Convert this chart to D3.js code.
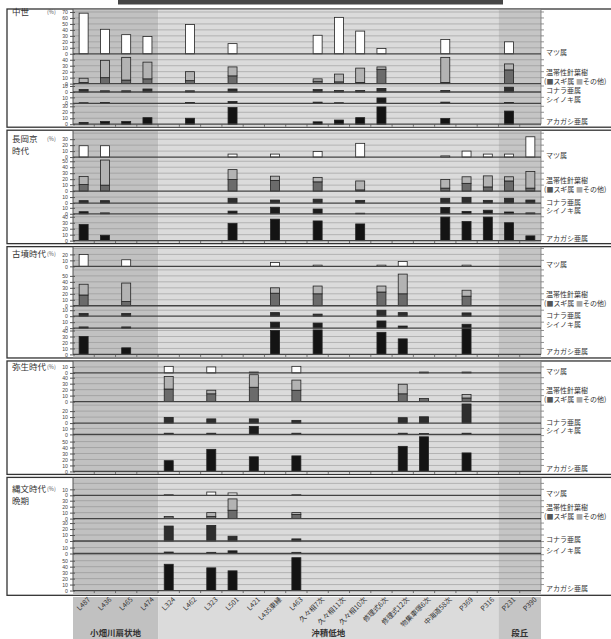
<!DOCTYPE html>
<html>
<head>
<meta charset="utf-8">
<script src="https://cdn.jsdelivr.net/npm/d3@7"></script>
<style>
  body { margin: 0; background: #fff; }
  svg { display: block; font-family: "Noto Sans CJK JP", "Noto Sans", sans-serif; }
  .tick text { font-family: "Liberation Sans", sans-serif; }
</style>
</head>
<body>
<div id="chart"></div>
<script>
// sites along the x axis
const sites = ["L487", "L436", "L465", "L474", "L324", "L462", "L323", "L501", "L421", "L435東縁", "L463",
  "久々相7次", "久々相11次", "久々相10次", "修理式6次", "修理式12次", "物集車塚6次", "中海道58次",
  "P369", "P316", "P231", "P390"];
const regions = ["小畑川扇状地", "沖積低地", "段丘"];
const regionCount = [4, 16, 2];

const periods = [["中世"], ["長岡京", "時代"], ["古墳時代"], ["弥生時代"], ["縄文時代", "晩期"]];
const taxa = ["マツ属", "温帯性針葉樹", "コナラ亜属", "シイノキ属", "アカガシ亜属"];

// highest labelled tick (%) and the extent of each row (%) for each period
const tickMax = [[70, 40, 10, 10, 30], [30, 50, 10, 10, 40], [20, 50, 10, 10, 40], [10, 40, 20, 10, 50], [10, 30, 30, 10, 50]];
const rowSpan = [[75, 50, 14, 19, 35], [45, 57, 20, 18, 45], [33, 66, 17.5, 20, 44], [20, 48, 36, 19, 62], [30, 39, 37.5, 21, 62]];
const bottomPad = [5, 5, 6, 5, 8];

const _ = null;
// pollen percentages, one list per period
const matsu = [
  [68, 41, 32, 29, _, 49, _, 17, _, _, _, 31, 61, 38, 9, _, _, 24, _, _, 20, _],
  [19, 19, _, _, _, _, _, 5, _, 5, _, 9.5, _, 23, _, _, _, 2, 10, 5, 5, 34],
  [20, _, 11, _, _, _, _, _, _, 6.5, _, 2, _, _, 2, 8, _, _, 2, _, _, _],
  [_, _, _, _, 11, _, 10, _, 1.5, _, 11, _, _, _, _, _, 1.5, _, 1.5, _, _, _],
  [_, _, _, _, 1, _, 5.5, 4, _, _, 1, _, _, _, _, _, _, _, _, _, _, _]
];
const sugi = [
  [2, 10, 6, 8, _, 5, _, 13, _, _, _, 4, 3, 2, 24, _, _, 2, _, _, 23, _],
  [11, 10, _, _, _, _, _, 19.5, _, 18, _, 15.5, _, 2, _, _, _, 5, 13, 7, 17, 5],
  [18, _, 7, _, _, _, _, _, _, 21, _, 20, _, _, 23, 20, _, _, 16, _, _, _],
  [_, _, _, _, 21, _, 13, _, 24, _, 19, _, _, _, _, 13, 5, _, 6, _, _, _],
  [_, _, _, _, 3.5, _, 3.5, 14, _, _, 7, _, _, _, _, _, _, _, _, _, _, _]
];
const sonota = [
  [7, 29, 38, 28, _, 15, _, 15, _, _, _, 4, 13, 24, 4, _, _, 42, _, _, 10, _],
  [13.5, 42, _, _, _, _, _, 16.5, _, 7, _, 7.5, _, 15, _, _, _, 14.5, 11, 18.5, 7, 28],
  [18, _, 31, _, _, _, _, _, _, 9, _, 13, _, _, 10, 33, _, _, 10, _, _, _],
  [_, _, _, _, 21, _, 6, _, 21, _, 17, _, _, _, _, 16, _, _, 6, _, _, _],
  [_, _, _, _, _, _, 6.5, 19, _, _, 3, _, _, _, _, _, _, _, _, _, _, _]
];
const konara = [
  [4, 2, 2, 5, _, 2, _, 5, _, _, _, 4, 2.5, 2.5, 6, _, _, 2.5, _, _, 8, _],
  [4, 4, _, _, _, _, _, 8, _, 5, _, 6.5, _, 4.5, _, _, _, 8, 9.5, 4.5, 8, 5],
  [4.5, _, 4.5, _, _, _, _, _, _, 6, _, 3.5, _, _, 10, 6, _, _, 5.5, _, _, _],
  [_, _, _, _, 9.5, _, 7, _, 7, _, 4.5, _, _, _, _, 9, 10.5, _, 32, _, _, _],
  [_, _, _, _, 25, _, 26, 8, _, _, 3.5, _, _, _, _, _, _, _, _, _, _, _]
];
const shii = [
  [1, 1.5, _, _, _, 1.5, _, 3, _, _, _, 2, 1, _, 9, _, _, 2, _, _, 1.5, _],
  [3.5, 1.5, _, _, _, _, _, 4.5, _, 11, _, 8, _, 1, _, _, _, 10.5, 4, 6, 3, 1.5],
  [2, _, 2, _, _, _, _, _, _, 10, _, 8.5, _, _, 12, 3.5, _, _, 6.5, _, _, _],
  [_, _, _, _, 2, _, 2, _, 13.5, _, 2, _, _, _, _, 2, 1.5, _, 2, _, _, _],
  [_, _, _, _, 2.5, _, 2, 4.5, _, _, 2, _, _, _, _, _, _, _, _, _, _, _]
];
const akagashi = [
  [3, 4.5, 4.5, 11, _, 10, _, 28, _, _, _, 4, 7, 11, 29, _, _, 9.5, _, _, 22, _],
  [27, 9, _, _, _, _, _, 29, _, 36, _, 33, _, 28, _, _, _, 39.5, 32, 39.5, 30, 8],
  [30, _, 11, _, _, _, _, _, _, 40, _, 41, _, _, 37, 26, _, _, 43, _, _, _],
  [_, _, _, _, 18, _, 37, _, 24.5, _, 26, _, _, _, _, 42, 58, _, 31, _, _, _],
  [_, _, _, _, 44, _, 38, 33, _, _, 55, _, _, _, _, _, _, _, _, _, _, _]
];

const width = 611, height = 639;
const k = 0.597;            // px per percent
const x0 = 73, x1 = 541;
const regionFill = ["#c1c1c1", "#dbdbdb", "#c5c5c5"];

const svg = d3.select("#chart").append("svg")
  .attr("width", width)
  .attr("height", height);

const x = d3.scaleBand().domain(sites).range([x0, x1]);
const bw = x.bandwidth();
const barW = 9;

// region extents in px
let idx = 0;
const regionBox = regionCount.map(function(n) {
  const a = x(sites[idx]);
  const b = x(sites[idx + n - 1]) + bw;
  idx += n;
  return [a, b];
});

// dark strip at top (cropped photo)
svg.append("rect").attr("x", 118).attr("y", 0).attr("width", 385).attr("height", 4.5).attr("fill", "#464646");

// shading under the last panel
regionBox.forEach(function(r, i) {
  svg.append("rect").attr("x", r[0]).attr("y", 597).attr("width", r[1] - r[0]).attr("height", height - 597)
    .attr("fill", regionFill[i]);
});

let panelTop = 9;
periods.forEach(function(label, pi) {
  const spans = rowSpan[pi];
  const h = (d3.sum(spans) + bottomPad[pi]) * k;
  const g = svg.append("g");

  // panel frame
  g.append("rect").attr("x", 7).attr("y", panelTop).attr("width", 610).attr("height", h)
    .attr("fill", "#fff").attr("stroke", "#333").attr("stroke-width", 1.3);

  regionBox.forEach(function(r, i) {
    g.append("rect").attr("x", r[0]).attr("y", panelTop + 0.7).attr("width", r[1] - r[0]).attr("height", h - 1.4)
      .attr("fill", regionFill[i]);
  });

  // one y scale per row
  let cur = panelTop;
  const ys = spans.map(function(s) {
    cur += s * k;
    return d3.scaleLinear().domain([0, s]).range([cur, cur - s * k]);
  });

  ys.forEach(function(y, ri) {
    const grid = d3.range(10, spans[ri], 10);
    // gridlines
    g.selectAll(null).data(grid).enter().append("line")
      .attr("x1", x0).attr("x2", x1)
      .attr("y1", d => y(d)).attr("y2", d => y(d))
      .attr("stroke", "#888").attr("stroke-opacity", 0.7).attr("stroke-width", 0.7);
    // right ticks
    g.selectAll(null).data(grid).enter().append("line")
      .attr("x1", x1).attr("x2", x1 + 3)
      .attr("y1", d => y(d)).attr("y2", d => y(d))
      .attr("stroke", "#666").attr("stroke-width", 0.7);
    g.append("line").attr("x1", x1).attr("x2", x1).attr("y1", y(0)).attr("y2", y(spans[ri]))
      .attr("stroke", "#777").attr("stroke-width", 0.8);

    // left axis
    const ax = g.append("g").attr("transform", "translate(" + x0 + ",0)")
      .call(d3.axisLeft(y).tickValues(d3.range(0, tickMax[pi][ri] + 1, 10)).tickSizeOuter(0).tickSize(3).tickPadding(2));
    ax.select(".domain").attr("d", "M0," + y(0) + "V" + y(spans[ri])).attr("stroke", "#555");
    ax.selectAll(".tick line").attr("stroke", "#555").attr("x2", -3).attr("x1", 2);
    ax.selectAll(".tick text").attr("font-size", 5.2).attr("fill", "#444");
  });

  function bars(vals, y, fill, lo) {
    g.selectAll(null).data(sites.map((s, i) => ({ s: s, v: vals[i], b: lo ? (lo[i] || 0) : 0 })).filter(d => d.v))
      .enter().append("rect")
      .attr("x", d => x(d.s) + (bw - barW) / 2)
      .attr("width", barW)
      .attr("y", d => y(d.b + d.v))
      .attr("height", d => y(d.b) - y(d.b + d.v))
      .attr("fill", fill)
      .attr("stroke", "#222")
      .attr("stroke-width", 0.8);
  }
  bars(matsu[pi], ys[0], "#fff");
  bars(sugi[pi], ys[1], "#6b6b6b");
  bars(sonota[pi], ys[1], "#b3b3b3", sugi[pi]);
  bars(konara[pi], ys[2], "#2e2e2e");
  bars(shii[pi], ys[3], "#1c1c1c");
  bars(akagashi[pi], ys[4], "#141414");

  // baselines
  ys.forEach(function(y) {
    g.append("line").attr("x1", x0).attr("x2", x1).attr("y1", y(0)).attr("y2", y(0))
      .attr("stroke", "#444").attr("stroke-width", 1.3);
  });

  // x ticks at the bottom of each panel
  const yb = ys[4](0);
  g.selectAll(null).data(sites.slice(1)).enter().append("line")
    .attr("x1", d => x(d)).attr("x2", d => x(d))
    .attr("y1", yb).attr("y2", yb + 2.5)
    .attr("stroke", "#555").attr("stroke-width", 0.8);

  // period label and unit
  const ty = ys[0](tickMax[pi][0]);
  label.forEach(function(t, li) {
    g.append("text").attr("x", 12).attr("y", ty + 3 + li * 12).attr("font-size", 8.5).attr("fill", "#333").text(t);
  });
  g.append("text").attr("x", 47).attr("y", ty + 2).attr("font-size", 5.5).attr("fill", "#555").text("(%)");

  // taxon labels on the right
  const lx = 546;
  const lab = g.append("g").attr("font-size", 7).attr("fill", "#333");
  lab.append("text").attr("x", lx).attr("y", ys[0](0) + 1).text(taxa[0]);
  lab.append("text").attr("x", lx).attr("y", ys[1](0) - 8.5).text(taxa[1]);
  const leg = lab.append("text").attr("x", lx - 2).attr("y", ys[1](0) + 0.5);
  leg.append("tspan").text("(");
  leg.append("tspan").attr("fill", "#555").text("■");
  leg.append("tspan").text("スギ属 ");
  leg.append("tspan").attr("fill", "#aaa").text("■");
  leg.append("tspan").text("その他)");
  lab.append("text").attr("x", lx).attr("y", ys[2](0) + 1.5).text(taxa[2]);
  lab.append("text").attr("x", lx).attr("y", ys[3](0) - 1).text(taxa[3]);
  lab.append("text").attr("x", lx).attr("y", ys[4](0)).text(taxa[4]);

  panelTop += h + 3;
});

// site labels
svg.append("g").selectAll("text").data(sites).enter().append("text")
  .attr("transform", d => "translate(" + (x(d) + bw / 2 + 7) + ",600) rotate(-45)")
  .attr("text-anchor", "end")
  .attr("font-size", 7)
  .attr("fill", "#333")
  .text(d => d);

// region labels
svg.append("g").selectAll("text").data(regions).enter().append("text")
  .attr("x", (d, i) => (regionBox[i][0] + regionBox[i][1]) / 2)
  .attr("y", 636)
  .attr("text-anchor", "middle")
  .attr("font-size", 8.5)
  .attr("font-weight", "bold")
  .attr("fill", "#333")
  .text(d => d);
</script>
</body>
</html>
